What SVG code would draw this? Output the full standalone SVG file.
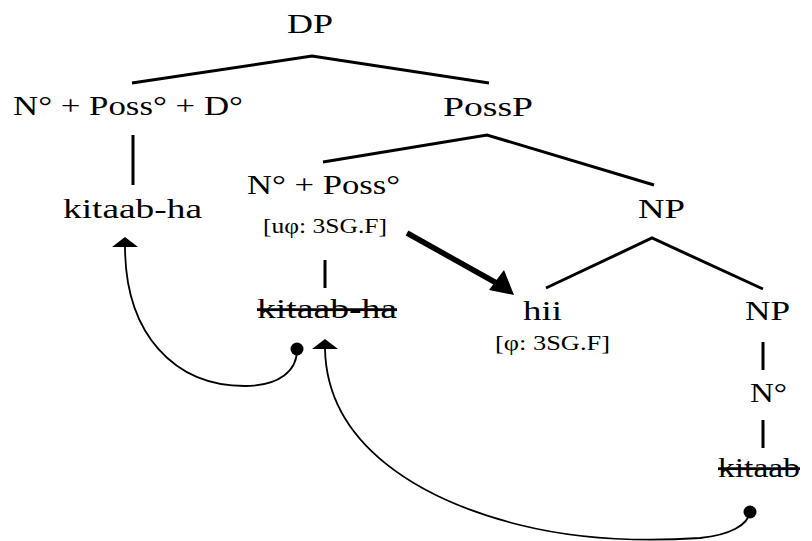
<svg xmlns="http://www.w3.org/2000/svg" width="812" height="541" viewBox="0 0 812 541">
<style>
text{font-family:"Liberation Serif","Times New Roman",serif;fill:#000}
.b{font-size:28px}
.s{font-size:21px}
.st{text-decoration:line-through}
.tree{stroke:#000;stroke-width:3;fill:none;stroke-linecap:butt}
.curve{stroke:#000;stroke-width:1.8;fill:none}
.head{fill:#000}
</style>
<rect width="812" height="541" fill="#fff"/>
<g id="connectors">
<polyline class="tree" points="132,83 312,56 489,83"/>
<line class="tree" x1="133" y1="135" x2="133" y2="185"/>
<polyline class="tree" points="323,162 487,135 654,185"/>
<line class="tree" x1="325" y1="260" x2="325" y2="288"/>
<polyline class="tree" points="546,288 652,238 763,289"/>
<line class="tree" x1="763" y1="342" x2="763" y2="370"/>
<line class="tree" x1="763" y1="420" x2="763" y2="448"/>
<line x1="407" y1="233" x2="500" y2="285" stroke="#000" stroke-width="5.5"/>
<polygon class="head" points="514,295 489,290 504,270"/>
<path class="curve" d="M125,246 C125,335 175,386 245,386 C280,386 297,370 297,350"/>
<polygon class="head" points="125,237 112,247 138,247"/>
<circle class="head" cx="297" cy="349" r="6.5"/>
<path class="curve" d="M325,349 C327,445 420,500 520,525 C580,540 640,542 700,538 C730,535 748,525 750,512"/>
<polygon class="head" points="325,339 312,349 338,349"/>
<circle class="head" cx="750" cy="512" r="6.5"/>
</g>
<g id="n-dp"><text class="b" x="287" y="33" textLength="46" lengthAdjust="spacingAndGlyphs">DP</text></g>
<g id="n-head"><text class="b" x="13" y="115" textLength="230" lengthAdjust="spacingAndGlyphs">N° + Poss° + D°</text></g>
<g id="n-possp"><text class="b" x="443" y="116" textLength="90" lengthAdjust="spacingAndGlyphs">PossP</text></g>
<g id="n-kitaabha"><text class="b" x="63" y="218" textLength="139" lengthAdjust="spacingAndGlyphs">kitaab-ha</text></g>
<g id="n-nposs">
<text class="b" x="247" y="194" textLength="153" lengthAdjust="spacingAndGlyphs">N° + Poss°</text>
<text class="s" x="263" y="233" textLength="124" lengthAdjust="spacingAndGlyphs">[uφ: 3SG.F]</text>
</g>
<g id="n-kitaabha-copy"><text class="b st" x="257" y="318" textLength="140" lengthAdjust="spacingAndGlyphs">kitaab-ha</text></g>
<g id="n-np1"><text class="b" x="638" y="218" textLength="47" lengthAdjust="spacingAndGlyphs">NP</text></g>
<g id="n-hii">
<text class="b" x="523" y="320" textLength="39" lengthAdjust="spacingAndGlyphs">hii</text>
<text class="s" x="495" y="350" textLength="115" lengthAdjust="spacingAndGlyphs">[φ: 3SG.F]</text>
</g>
<g id="n-np2"><text class="b" x="745" y="320" textLength="45" lengthAdjust="spacingAndGlyphs">NP</text></g>
<g id="n-n"><text class="b" x="750" y="402" textLength="37" lengthAdjust="spacingAndGlyphs">N°</text></g>
<g id="n-kitaab"><text class="b st" x="718" y="477" textLength="82" lengthAdjust="spacingAndGlyphs">kitaab</text></g>
</svg>
